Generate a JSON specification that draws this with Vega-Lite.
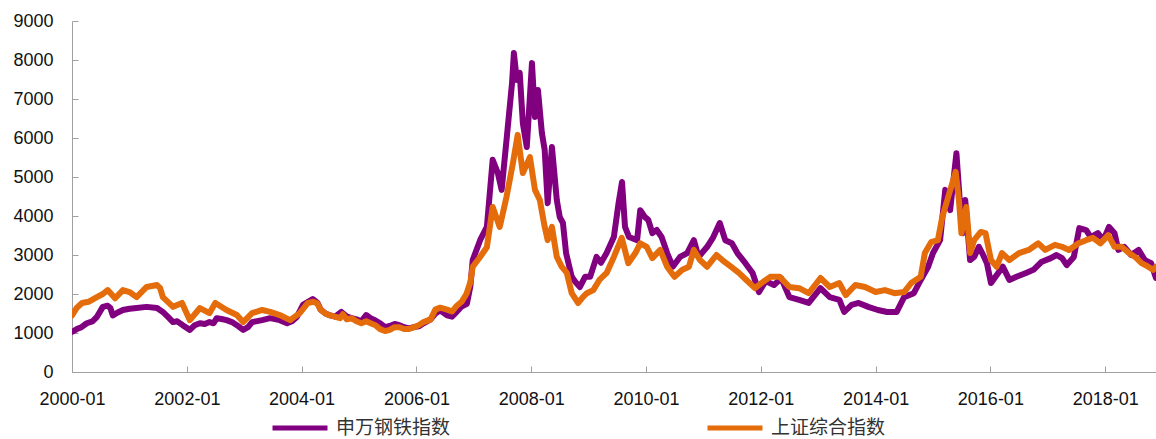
{
  "$schema": "https://vega.github.io/schema/vega-lite/v6.json",
  "width": 1084,
  "height": 351,
  "autosize": "none",
  "padding": {"left": 72, "top": 21, "right": 0, "bottom": 67},
  "background": "white",
  "config": {
    "view": {"stroke": null},
    "axis": {"labelFont": "Liberation Sans", "labelFontSize": 18, "labelColor": "#111", "domainColor": "#a0a0a0", "tickColor": "#a0a0a0", "grid": false, "title": null},
    "legend": {"padding": 0}
  },
  "datasets": {
    "steel": [
      {"d":"2000-01-01","v":1030},{"d":"2000-02-01","v":1100},{"d":"2000-03-01","v":1150},{"d":"2000-04-04","v":1250},{"d":"2000-05-10","v":1300},{"d":"2000-06-07","v":1410},{"d":"2000-07-15","v":1670},{"d":"2000-08-15","v":1700},{"d":"2000-09-01","v":1640},{"d":"2000-09-17","v":1450},{"d":"2000-10-15","v":1520},{"d":"2000-11-20","v":1590},{"d":"2001-01-01","v":1620},{"d":"2001-02-15","v":1640},{"d":"2001-04-20","v":1670},{"d":"2001-06-25","v":1640},{"d":"2001-08-01","v":1540},{"d":"2001-09-01","v":1420},{"d":"2001-10-05","v":1280},{"d":"2001-11-01","v":1300},{"d":"2001-12-05","v":1200},{"d":"2002-01-20","v":1080},{"d":"2002-02-20","v":1200},{"d":"2002-03-25","v":1250},{"d":"2002-04-25","v":1230},{"d":"2002-05-25","v":1280},{"d":"2002-06-20","v":1250},{"d":"2002-07-10","v":1380},{"d":"2002-08-10","v":1360},{"d":"2002-09-10","v":1330},{"d":"2002-10-15","v":1280},{"d":"2002-11-15","v":1200},{"d":"2002-12-25","v":1080},{"d":"2003-01-25","v":1150},{"d":"2003-02-20","v":1280},{"d":"2003-04-25","v":1330},{"d":"2003-06-15","v":1380},{"d":"2003-08-15","v":1330},{"d":"2003-10-01","v":1250},{"d":"2003-11-01","v":1300},{"d":"2003-12-01","v":1410},{"d":"2004-01-10","v":1720},{"d":"2004-03-12","v":1870},{"d":"2004-04-10","v":1780},{"d":"2004-05-01","v":1600},{"d":"2004-06-01","v":1500},{"d":"2004-07-01","v":1450},{"d":"2004-08-01","v":1420},{"d":"2004-09-10","v":1540},{"d":"2004-10-15","v":1420},{"d":"2004-11-15","v":1380},{"d":"2004-12-15","v":1350},{"d":"2005-01-15","v":1300},{"d":"2005-02-15","v":1460},{"d":"2005-03-15","v":1380},{"d":"2005-04-15","v":1320},{"d":"2005-05-15","v":1250},{"d":"2005-06-15","v":1150},{"d":"2005-07-15","v":1180},{"d":"2005-08-15","v":1230},{"d":"2005-09-15","v":1200},{"d":"2005-10-15","v":1150},{"d":"2005-11-15","v":1120},{"d":"2005-12-15","v":1150},{"d":"2006-01-15","v":1170},{"d":"2006-02-15","v":1250},{"d":"2006-04-01","v":1350},{"d":"2006-05-01","v":1500},{"d":"2006-06-01","v":1580},{"d":"2006-07-15","v":1450},{"d":"2006-08-15","v":1420},{"d":"2006-09-15","v":1550},{"d":"2006-10-15","v":1680},{"d":"2006-11-18","v":1750},{"d":"2006-12-10","v":2200},{"d":"2006-12-25","v":2870},{"d":"2007-02-10","v":3380},{"d":"2007-03-25","v":3720},{"d":"2007-05-01","v":5440},{"d":"2007-06-03","v":5100},{"d":"2007-06-27","v":4670},{"d":"2007-07-28","v":5950},{"d":"2007-09-01","v":7400},{"d":"2007-09-13","v":8180},{"d":"2007-10-01","v":7490},{"d":"2007-10-20","v":7670},{"d":"2007-11-09","v":6380},{"d":"2007-12-04","v":5770},{"d":"2008-01-06","v":7920},{"d":"2008-01-25","v":6540},{"d":"2008-02-13","v":7230},{"d":"2008-03-09","v":6130},{"d":"2008-03-27","v":5690},{"d":"2008-04-15","v":4330},{"d":"2008-05-12","v":5770},{"d":"2008-06-12","v":4410},{"d":"2008-07-01","v":3970},{"d":"2008-07-21","v":3820},{"d":"2008-08-10","v":3050},{"d":"2008-09-15","v":2440},{"d":"2008-10-10","v":2300},{"d":"2008-11-06","v":2180},{"d":"2008-12-09","v":2440},{"d":"2009-01-10","v":2440},{"d":"2009-02-20","v":2950},{"d":"2009-03-20","v":2800},{"d":"2009-04-25","v":3050},{"d":"2009-06-10","v":3460},{"d":"2009-07-10","v":4330},{"d":"2009-08-01","v":4870},{"d":"2009-08-20","v":3720},{"d":"2009-09-15","v":3460},{"d":"2009-11-05","v":3380},{"d":"2009-11-25","v":4150},{"d":"2009-12-25","v":3970},{"d":"2010-01-15","v":3900},{"d":"2010-02-10","v":3560},{"d":"2010-03-10","v":3640},{"d":"2010-04-10","v":3460},{"d":"2010-05-15","v":3050},{"d":"2010-06-20","v":2700},{"d":"2010-08-05","v":2950},{"d":"2010-09-20","v":3050},{"d":"2010-11-01","v":3380},{"d":"2010-12-01","v":2950},{"d":"2011-01-25","v":3210},{"d":"2011-03-05","v":3460},{"d":"2011-04-15","v":3820},{"d":"2011-05-20","v":3380},{"d":"2011-07-01","v":3300},{"d":"2011-08-05","v":3050},{"d":"2011-09-25","v":2790},{"d":"2011-11-10","v":2540},{"d":"2011-12-20","v":2050},{"d":"2012-02-01","v":2330},{"d":"2012-03-25","v":2230},{"d":"2012-05-10","v":2400},{"d":"2012-07-01","v":1920},{"d":"2012-09-01","v":1850},{"d":"2012-11-01","v":1770},{"d":"2013-01-15","v":2150},{"d":"2013-03-15","v":1920},{"d":"2013-05-15","v":1850},{"d":"2013-06-15","v":1540},{"d":"2013-08-01","v":1720},{"d":"2013-09-15","v":1770},{"d":"2013-11-15","v":1670},{"d":"2014-01-15","v":1590},{"d":"2014-03-15","v":1540},{"d":"2014-05-15","v":1540},{"d":"2014-07-01","v":1920},{"d":"2014-09-01","v":2020},{"d":"2014-10-15","v":2360},{"d":"2014-12-01","v":2700},{"d":"2015-01-01","v":3050},{"d":"2015-02-15","v":3380},{"d":"2015-03-20","v":4670},{"d":"2015-04-20","v":4150},{"d":"2015-05-30","v":5610},{"d":"2015-06-20","v":4410},{"d":"2015-07-10","v":3560},{"d":"2015-07-25","v":4410},{"d":"2015-08-25","v":2870},{"d":"2015-09-20","v":2950},{"d":"2015-10-20","v":3210},{"d":"2015-11-10","v":3050},{"d":"2015-12-10","v":2790},{"d":"2016-01-05","v":2280},{"d":"2016-02-20","v":2540},{"d":"2016-03-20","v":2700},{"d":"2016-05-01","v":2360},{"d":"2016-06-15","v":2440},{"d":"2016-08-15","v":2540},{"d":"2016-10-01","v":2620},{"d":"2016-11-20","v":2820},{"d":"2017-01-20","v":2920},{"d":"2017-02-25","v":3000},{"d":"2017-04-01","v":2920},{"d":"2017-05-01","v":2740},{"d":"2017-06-15","v":2950},{"d":"2017-07-20","v":3690},{"d":"2017-09-01","v":3640},{"d":"2017-10-01","v":3460},{"d":"2017-11-15","v":3560},{"d":"2017-12-20","v":3380},{"d":"2018-01-25","v":3720},{"d":"2018-03-01","v":3560},{"d":"2018-03-25","v":3130},{"d":"2018-05-01","v":3210},{"d":"2018-06-15","v":3000},{"d":"2018-08-01","v":3130},{"d":"2018-09-10","v":2870},{"d":"2018-10-20","v":2790},{"d":"2018-11-20","v":2410}
    ],
    "sse": [
      {"d":"2000-01-01","v":1450},{"d":"2000-02-01","v":1650},{"d":"2000-03-05","v":1770},{"d":"2000-04-15","v":1800},{"d":"2000-06-07","v":1920},{"d":"2000-07-15","v":2000},{"d":"2000-08-15","v":2100},{"d":"2000-10-01","v":1890},{"d":"2000-11-20","v":2100},{"d":"2001-01-01","v":2050},{"d":"2001-02-15","v":1920},{"d":"2001-04-20","v":2180},{"d":"2001-06-25","v":2230},{"d":"2001-07-15","v":2150},{"d":"2001-08-01","v":1920},{"d":"2001-10-05","v":1670},{"d":"2001-12-01","v":1770},{"d":"2002-01-20","v":1330},{"d":"2002-03-25","v":1640},{"d":"2002-05-25","v":1510},{"d":"2002-07-01","v":1770},{"d":"2002-09-10","v":1590},{"d":"2002-11-15","v":1460},{"d":"2002-12-25","v":1280},{"d":"2003-02-20","v":1510},{"d":"2003-04-25","v":1590},{"d":"2003-06-15","v":1540},{"d":"2003-08-15","v":1460},{"d":"2003-10-20","v":1330},{"d":"2003-12-20","v":1510},{"d":"2004-02-10","v":1770},{"d":"2004-03-15","v":1800},{"d":"2004-04-10","v":1760},{"d":"2004-05-01","v":1600},{"d":"2004-06-01","v":1500},{"d":"2004-07-01","v":1450},{"d":"2004-08-01","v":1420},{"d":"2004-09-01","v":1380},{"d":"2004-09-20","v":1480},{"d":"2004-10-15","v":1350},{"d":"2004-11-15","v":1380},{"d":"2004-12-15","v":1300},{"d":"2005-01-15","v":1250},{"d":"2005-02-15","v":1300},{"d":"2005-03-15","v":1250},{"d":"2005-04-15","v":1200},{"d":"2005-05-15","v":1100},{"d":"2005-06-15","v":1050},{"d":"2005-07-15","v":1080},{"d":"2005-08-15","v":1150},{"d":"2005-09-15","v":1150},{"d":"2005-10-15","v":1100},{"d":"2005-11-15","v":1100},{"d":"2005-12-15","v":1150},{"d":"2006-01-15","v":1200},{"d":"2006-02-15","v":1280},{"d":"2006-04-01","v":1350},{"d":"2006-05-01","v":1600},{"d":"2006-06-01","v":1650},{"d":"2006-07-15","v":1600},{"d":"2006-08-15","v":1550},{"d":"2006-09-15","v":1700},{"d":"2006-10-15","v":1800},{"d":"2006-11-15","v":2000},{"d":"2006-12-10","v":2300},{"d":"2006-12-25","v":2700},{"d":"2007-02-10","v":2950},{"d":"2007-03-25","v":3200},{"d":"2007-05-01","v":4230},{"d":"2007-06-15","v":3720},{"d":"2007-07-28","v":4490},{"d":"2007-09-07","v":5360},{"d":"2007-10-07","v":6080},{"d":"2007-11-09","v":5100},{"d":"2007-12-24","v":5510},{"d":"2008-01-25","v":4670},{"d":"2008-02-25","v":4410},{"d":"2008-03-27","v":3720},{"d":"2008-04-15","v":3380},{"d":"2008-05-12","v":3720},{"d":"2008-06-12","v":2950},{"d":"2008-07-13","v":2700},{"d":"2008-08-15","v":2540},{"d":"2008-09-15","v":2020},{"d":"2008-10-25","v":1770},{"d":"2008-11-25","v":1920},{"d":"2008-12-20","v":2020},{"d":"2009-01-30","v":2100},{"d":"2009-03-10","v":2360},{"d":"2009-04-25","v":2540},{"d":"2009-06-10","v":2950},{"d":"2009-07-30","v":3440},{"d":"2009-09-10","v":2790},{"d":"2009-10-25","v":3050},{"d":"2009-11-25","v":3300},{"d":"2010-01-05","v":3210},{"d":"2010-02-10","v":2920},{"d":"2010-04-01","v":3130},{"d":"2010-05-15","v":2700},{"d":"2010-07-01","v":2440},{"d":"2010-08-20","v":2620},{"d":"2010-10-01","v":2700},{"d":"2010-11-01","v":3130},{"d":"2010-12-10","v":2870},{"d":"2011-01-25","v":2700},{"d":"2011-03-25","v":3000},{"d":"2011-05-01","v":2870},{"d":"2011-06-25","v":2700},{"d":"2011-08-15","v":2540},{"d":"2011-10-01","v":2360},{"d":"2011-11-25","v":2150},{"d":"2012-01-05","v":2280},{"d":"2012-03-01","v":2440},{"d":"2012-05-01","v":2440},{"d":"2012-07-01","v":2180},{"d":"2012-09-01","v":2150},{"d":"2012-11-01","v":2020},{"d":"2013-01-15","v":2410},{"d":"2013-03-15","v":2180},{"d":"2013-05-15","v":2280},{"d":"2013-06-25","v":1970},{"d":"2013-08-25","v":2230},{"d":"2013-10-25","v":2180},{"d":"2014-01-01","v":2050},{"d":"2014-03-01","v":2100},{"d":"2014-05-01","v":2020},{"d":"2014-07-01","v":2050},{"d":"2014-08-15","v":2280},{"d":"2014-10-15","v":2440},{"d":"2014-11-10","v":3050},{"d":"2014-12-20","v":3330},{"d":"2015-02-01","v":3380},{"d":"2015-03-01","v":3970},{"d":"2015-04-15","v":4590},{"d":"2015-05-25","v":5130},{"d":"2015-06-15","v":4410},{"d":"2015-07-01","v":3560},{"d":"2015-08-01","v":4230},{"d":"2015-08-25","v":3050},{"d":"2015-09-20","v":3380},{"d":"2015-11-01","v":3590},{"d":"2015-12-01","v":3560},{"d":"2016-01-05","v":2870},{"d":"2016-02-10","v":2700},{"d":"2016-03-15","v":3050},{"d":"2016-05-01","v":2870},{"d":"2016-07-01","v":3050},{"d":"2016-09-01","v":3130},{"d":"2016-11-01","v":3300},{"d":"2016-12-15","v":3130},{"d":"2017-02-15","v":3260},{"d":"2017-04-01","v":3210},{"d":"2017-05-15","v":3130},{"d":"2017-07-15","v":3300},{"d":"2017-09-01","v":3380},{"d":"2017-10-15","v":3440},{"d":"2017-12-01","v":3300},{"d":"2018-01-20","v":3510},{"d":"2018-03-01","v":3210},{"d":"2018-04-15","v":3210},{"d":"2018-06-01","v":3050},{"d":"2018-07-10","v":2950},{"d":"2018-08-20","v":2790},{"d":"2018-10-01","v":2700},{"d":"2018-11-01","v":2620},{"d":"2018-11-20","v":2700}
    ]
  },
  "encoding": {
    "x": {
      "field": "d", "type": "temporal",
      "scale": {"type": "utc", "domain": [{"year": 2000, "month": 1, "date": 1, "utc": true}, {"year": 2018, "month": 11, "date": 20, "utc": true}]},
      "axis": {
        "labelExpr": "utcFormat(datum.value, '%Y-%m')",
        "values": [
          {"year": 2000, "month": 1, "date": 1, "utc": true},
          {"year": 2002, "month": 1, "date": 1, "utc": true},
          {"year": 2004, "month": 1, "date": 1, "utc": true},
          {"year": 2006, "month": 1, "date": 1, "utc": true},
          {"year": 2008, "month": 1, "date": 1, "utc": true},
          {"year": 2010, "month": 1, "date": 1, "utc": true},
          {"year": 2012, "month": 1, "date": 1, "utc": true},
          {"year": 2014, "month": 1, "date": 1, "utc": true},
          {"year": 2016, "month": 1, "date": 1, "utc": true},
          {"year": 2018, "month": 1, "date": 1, "utc": true}
        ],
        "tickSize": -6, "labelPadding": 24, "labelFlush": false, "labelOverlap": false
      }
    },
    "y": {
      "field": "v", "type": "quantitative",
      "scale": {"domain": [0, 9000], "nice": false},
      "axis": {"values": [0,1000,2000,3000,4000,5000,6000,7000,8000,9000], "format": "d", "tickSize": -6, "labelPadding": 25}
    }
  },
  "layer": [
    {
      "data": {"name": "steel"},
      "mark": {"type": "line", "strokeWidth": 6, "clip": true, "strokeJoin": "round", "strokeCap": "round"},
      "encoding": {
        "color": {
          "datum": "申万钢铁指数",
          "scale": {"domain": ["申万钢铁指数", "上证综合指数"], "range": ["#800080", "#E46C0A"]},
          "legend": {
            "title": null, "orient": "none", "legendX": 198, "legendY": 377, "direction": "horizontal",
            "symbolType": "stroke", "symbolSize": 3025, "symbolStrokeWidth": 5,
            "labelFont": "Noto Sans CJK SC", "labelFontSize": 19, "labelColor": "#333", "labelOffset": 6,
            "columnPadding": 246, "labelLimit": 300
          }
        }
      }
    },
    {
      "data": {"name": "sse"},
      "mark": {"type": "line", "strokeWidth": 6, "clip": true, "strokeJoin": "round", "strokeCap": "round"},
      "encoding": {"color": {"datum": "上证综合指数"}}
    }
  ]
}
